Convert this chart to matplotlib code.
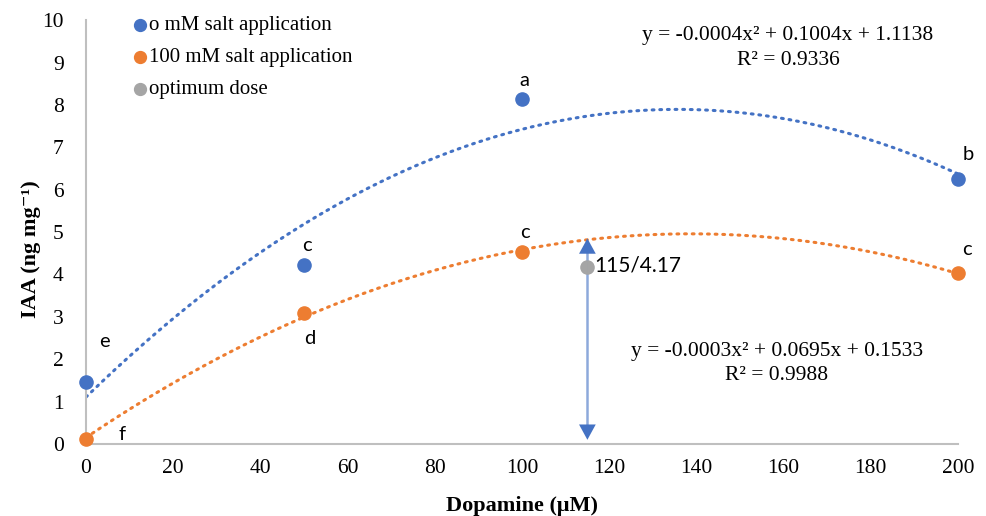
import numpy as np
import matplotlib.pyplot as plt

dose = [0, 50, 100, 200]
iaa_0mm = [1.47, 4.22, 8.15, 6.25]
iaa_100mm = [0.12, 3.08, 4.52, 4.03]
opt_x, opt_y = [115], [4.17]

blue = '#4472C4'
orange = '#ED7D31'
gray = '#A5A5A5'

plt.rcParams['font.family'] = ['Liberation Serif', 'DejaVu Serif']

fig = plt.figure(figsize=(9.86, 5.16), dpi=100)
ax = fig.add_axes([0.0872, 0.1395, 0.8844, 0.8215])

# quadratic trendlines
xs = np.linspace(0, 200, 300)
for y, c in [(iaa_0mm, blue), (iaa_100mm, orange)]:
    p = np.polyfit(dose, y, 2)
    ax.plot(xs, np.polyval(p, xs), color=c, lw=2.2, ls=(0, (0.6, 1.9)),
            dash_capstyle='round', zorder=2)

ax.scatter(dose, iaa_0mm, s=90, color=blue, label='o mM salt application', zorder=3)
ax.scatter(dose, iaa_100mm, s=90, color=orange, label='100 mM salt application', zorder=3)
ax.scatter(opt_x, opt_y, s=90, color=gray, label='optimum dose', zorder=3)

# double arrow at optimum dose
ax.plot([115, 115], [0.3, 4.6], color='#8FAADC', lw=1.8, zorder=1)
ax.annotate('', xy=(115, 4.85), xytext=(115, 0.1),
            arrowprops=dict(arrowstyle='<|-|>,head_length=0.55,head_width=0.3', color=blue,
                            lw=0.01, mutation_scale=20, shrinkA=0, shrinkB=0))
ax.text(116.6, 4.2, '115/4.17', fontsize=15, family='Lato', va='center', ha='left')

# significance letters
sans = dict(fontsize=14.5, family='Lato')
ax.text(3, 2.3, 'e', **sans)
ax.text(49.5, 4.55, 'c', **sans)
ax.text(99.5, 8.45, 'a', **sans)
ax.text(201, 6.7, 'b', **sans)
ax.text(7.5, 0.1, 'f', **sans)
ax.text(50, 2.35, 'd', **sans)
ax.text(99.5, 4.85, 'c', **sans)
ax.text(201, 4.45, 'c', **sans)

ax.text(161, 9.85, 'y = -0.0004x² + 0.1004x + 1.1138\nR² = 0.9336',
        ha='center', va='top', fontsize=15.5, linespacing=1.38)
ax.text(158.5, 2.4, 'y = -0.0003x² + 0.0695x + 0.1533\nR² = 0.9988',
        ha='center', va='top', fontsize=15.5, linespacing=1.35)

ax.set_xlim(0, 200)
ax.set_ylim(0, 10)
ax.set_xticks(np.arange(0, 201, 20))
ax.set_yticks(np.arange(0, 11, 1))
ax.tick_params(length=0, labelsize=15.5, pad=11)
ax.tick_params(axis='y', pad=16)
for s in ['top', 'right']:
    ax.spines[s].set_visible(False)
for s in ['left', 'bottom']:
    ax.spines[s].set_color('#BFBFBF')
    ax.spines[s].set_linewidth(1.5)
for coll in ax.collections:
    coll.set_clip_on(False)

ax.set_xlabel('Dopamine (μM)', fontsize=16, fontweight='bold', labelpad=13)
ax.set_ylabel('IAA (ng mg⁻¹)', fontsize=16, fontweight='bold')
ax.yaxis.set_label_coords(-0.052, 0.46)

ax.legend(loc='upper left', bbox_to_anchor=(0.029, 1.03), frameon=False, fontsize=15,
          handletextpad=-0.6, markerscale=0.9, labelspacing=0.6, borderaxespad=0)

fig.savefig('out.png', dpi=100)
